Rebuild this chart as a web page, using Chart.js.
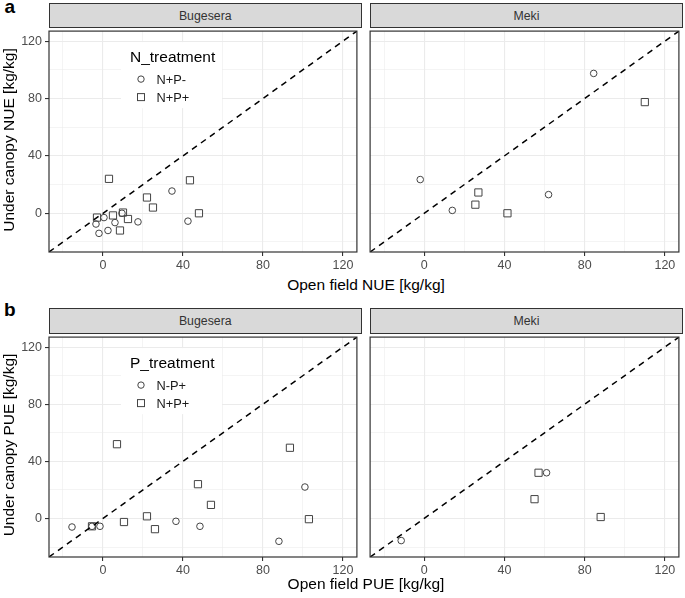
<!DOCTYPE html>
<html>
<head>
<meta charset="utf-8">
<script src="https://cdn.jsdelivr.net/npm/chart.js@4/dist/chart.umd.min.js"></script>
<style>
  html, body { margin:0; padding:0; background:#fff; }
  body { width:685px; height:598px; position:relative; overflow:hidden; font-family:"Liberation Sans", Arial, sans-serif; }
  .abs { position:absolute; }
  .strip { position:absolute; box-sizing:border-box; background:#D9D9D9; border:1.1px solid #333; color:#333;
           font-size:12.3px; display:flex; align-items:center; justify-content:center; }
  .xtitle { position:absolute; left:49px; width:634px; text-align:center; font-size:15.5px; line-height:15.5px; color:#000; white-space:nowrap; }
  .ytitle { position:absolute; width:300px; height:16px; line-height:16px; font-size:15.5px; text-align:center; color:#000;
            white-space:nowrap; transform:rotate(-90deg); transform-origin:50% 50%; }
  .tag { position:absolute; font-weight:bold; font-size:19px; line-height:19px; color:#000; }
</style>
</head>
<body>

<div class="tag" style="left:4.5px; top:-2.8px;">a</div>
<div class="tag" style="left:4px; top:299.6px;">b</div>

<div class="strip" style="left:49px; top:3px; width:312.5px; height:25px;">Bugesera</div>
<div class="strip" style="left:370px; top:3px; width:313px; height:25px;">Meki</div>
<div class="strip" style="left:49px; top:308px; width:312.5px; height:25.5px;">Bugesera</div>
<div class="strip" style="left:370px; top:308px; width:313px; height:25.5px;">Meki</div>

<div class="abs" style="left:0; top:25px;"><canvas id="cTL" width="363" height="250"></canvas></div>
<div class="abs" style="left:364px; top:25px;"><canvas id="cTR" width="321" height="250"></canvas></div>
<div class="abs" style="left:0; top:331px;"><canvas id="cBL" width="363" height="249"></canvas></div>
<div class="abs" style="left:364px; top:331px;"><canvas id="cBR" width="321" height="249"></canvas></div>

<div class="xtitle" style="top:277px;">Open field NUE [kg/kg]</div>
<div class="xtitle" style="top:576px;">Open field PUE [kg/kg]</div>
<div class="ytitle" style="left:-140.9px; top:131.5px;">Under canopy NUE [kg/kg]</div>
<div class="ytitle" style="left:-140.9px; top:437px;">Under canopy PUE [kg/kg]</div>

<script>
// ---------- axis definitions ----------
const tickMajor = [0, 40, 80, 120];
const tickMinor = [-20, 20, 60, 100];
const axisLimits = [-27, 127];

// ---------- panel a : NUE ----------
const nueBugNPm_x = [34.5, 0.5, 9.5, -3.5, 6, 17.5, 42.5, 2.5, -2];
const nueBugNPm_y = [15.5, -3, 0, -7.5, -6.5, -6, -5.5, -12, -14];
const nueBugNPp_x = [3, 43.5, 22, 25, 48, 10, 5, -3, 12.5, 8.5];
const nueBugNPp_y = [24, 23, 11, 4, 0, 0.5, -1.5, -3, -4, -12];
const nueMekNPm_x = [84.5, -2, 14, 62];
const nueMekNPm_y = [97.5, 23.5, 2, 13];
const nueMekNPp_x = [110, 27, 25.5, 41.5];
const nueMekNPp_y = [77.5, 14.5, 6, 0];

// ---------- panel b : PUE ----------
const pueBugNmPp_x = [101, 36.5, 48.5, -1.5, -15.5, 88, -5.5];
const pueBugNmPp_y = [22, -2, -5.5, -5.5, -6, -16, -5.5];
const pueBugNPp_x = [7, 93.5, 47.5, 54, 22, 10.5, 26, -5.5, 103];
const pueBugNPp_y = [52, 49.5, 24, 9.5, 1.5, -2.5, -7.5, -5.5, -0.5];
const pueMekNmPp_x = [61, -11.5];
const pueMekNmPp_y = [32, -15.5];
const pueMekNPp_x = [57, 55, 88];
const pueMekNPp_y = [32, 13.5, 1];

// ---------- legend texts ----------
const legendN = { title: 'N_treatment', labels: ['N+P-', 'N+P+'] };
const legendP = { title: 'P_treatment', labels: ['N-P+', 'N+P+'] };

const FONT = '"Liberation Sans", Arial, sans-serif';
const POINT_COLOR = '#444444';
const isMajor = v => tickMajor.includes(v);
const allTicks = [...tickMinor, ...tickMajor].sort((a, b) => a - b);

const zip = (xs, ys) => xs.map((x, i) => ({ x, y: ys[i] }));

function axisOpts(isX, showLabels, fitSize) {
  return {
    type: 'linear',
    min: axisLimits[0],
    max: axisLimits[1],
    afterBuildTicks: s => { s.ticks = allTicks.map(v => ({ value: v })); },
    afterFit: s => {
      if (isX) s.height = fitSize; else s.width = fitSize;
      s.paddingTop = 0; s.paddingBottom = 0; s.paddingLeft = 0; s.paddingRight = 0;
    },
    border: { display: false },
    grid: {
      color: '#EBEBEB',
      lineWidth: c => (c.tick && isMajor(c.tick.value)) ? 1.1 : 0.55,
      drawTicks: showLabels,
      tickLength: 4,
      tickWidth: 1.1,
      tickColor: c => (c.tick && isMajor(c.tick.value)) ? '#333333' : 'rgba(0,0,0,0)'
    },
    ticks: {
      display: showLabels,
      autoSkip: false,
      maxRotation: 0,
      minRotation: 0,
      padding: isX ? 2.5 : 3,
      color: '#4D4D4D',
      font: { family: FONT, size: 12.5 },
      callback: v => isMajor(v) ? String(v) : ''
    }
  };
}

const framePlugin = {
  id: 'frame',
  afterDraw(chart) {
    const { ctx, chartArea: a } = chart;
    ctx.save();
    ctx.strokeStyle = '#333333';
    ctx.lineWidth = 1.2;
    ctx.strokeRect(a.left, a.top, a.right - a.left, a.bottom - a.top);
    ctx.restore();
  }
};

function legendPlugin(spec) {
  return {
    id: 'inlineLegend',
    afterDraw(chart) {
      const { ctx, chartArea: a } = chart;
      const L = a.left, T = a.top;
      ctx.save();
      ctx.fillStyle = '#ffffff';
      ctx.fillRect(L + 72, T + 11, 101, 66);
      ctx.fillStyle = '#000000';
      ctx.textBaseline = 'alphabetic';
      ctx.textAlign = 'left';
      ctx.font = '15.5px ' + FONT;
      ctx.fillText(spec.title, L + 81, T + 31);
      ctx.font = '12.8px ' + FONT;
      ctx.fillStyle = '#1A1A1A';
      ctx.fillText(spec.labels[0], L + 107.5, T + 52.6);
      ctx.fillText(spec.labels[1], L + 107.5, T + 70.6);
      ctx.strokeStyle = POINT_COLOR;
      ctx.lineWidth = 1;
      ctx.beginPath();
      ctx.arc(L + 92, T + 48, 3.2, 0, Math.PI * 2);
      ctx.stroke();
      ctx.strokeRect(L + 92 - 3.5, T + 66 - 3.5, 7, 7);
      ctx.restore();
    }
  };
}

function makePanel(id, circles, squares, showY, legend) {
  const plugins = [framePlugin];
  if (legend) plugins.push(legendPlugin(legend));
  new Chart(document.getElementById(id), {
    type: 'scatter',
    data: {
      datasets: [
        {
          type: 'line',
          data: [{ x: axisLimits[0], y: axisLimits[0] }, { x: axisLimits[1], y: axisLimits[1] }],
          borderColor: '#000000',
          borderWidth: 1.5,
          borderDash: [6, 5],
          pointRadius: 0,
          fill: false,
          tension: 0
        },
        {
          data: circles,
          pointStyle: 'circle',
          pointRadius: 3.3,
          borderColor: POINT_COLOR,
          backgroundColor: 'rgba(0,0,0,0)',
          pointBorderWidth: 1
        },
        {
          data: squares,
          pointStyle: 'rect',
          pointRadius: 5.1,
          borderColor: POINT_COLOR,
          backgroundColor: 'rgba(0,0,0,0)',
          pointBorderWidth: 1
        }
      ]
    },
    options: {
      responsive: false,
      animation: false,
      events: [],
      layout: { padding: { top: 2, right: 2, left: 0, bottom: 0 } },
      plugins: { legend: { display: false }, tooltip: { enabled: false }, title: { display: false } },
      scales: {
        x: axisOpts(true, true, 23),
        y: axisOpts(false, showY, showY ? 49 : 6)
      }
    },
    plugins
  });
}

makePanel('cTL', zip(nueBugNPm_x, nueBugNPm_y), zip(nueBugNPp_x, nueBugNPp_y), true, legendN);
makePanel('cTR', zip(nueMekNPm_x, nueMekNPm_y), zip(nueMekNPp_x, nueMekNPp_y), false, null);
makePanel('cBL', zip(pueBugNmPp_x, pueBugNmPp_y), zip(pueBugNPp_x, pueBugNPp_y), true, legendP);
makePanel('cBR', zip(pueMekNmPp_x, pueMekNmPp_y), zip(pueMekNPp_x, pueMekNPp_y), false, null);
</script>
</body>
</html>
